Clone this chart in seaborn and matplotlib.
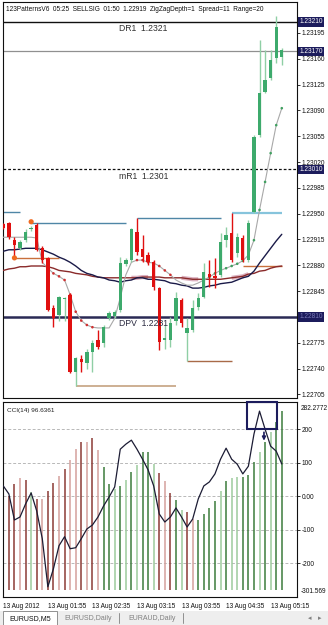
import numpy as np
import matplotlib
matplotlib.use("Agg")
import matplotlib.pyplot as plt
import matplotlib.transforms as mtransforms
from matplotlib.patches import Rectangle
import seaborn as sns

# ---------------- data ----------------
times = ["01:15","01:20","01:25","01:30","01:35","01:40","01:45","01:50","01:55",
         "02:00","02:05","02:10","02:15","02:20","02:25","02:30","02:35","02:40","02:45","02:50","02:55",
         "03:00","03:05","03:10","03:15","03:20","03:25","03:30","03:35","03:40","03:45","03:50","03:55",
         "04:00","04:05","04:10","04:15","04:20","04:25","04:30","04:35","04:40","04:45","04:50","04:55",
         "05:00","05:05","05:10","05:15","05:20","05:25"]

opens  = [1.22936,1.22937,1.22914,1.22903,1.22914,1.22929,1.22935,1.22903,1.22890,1.22822,
          1.22812,1.22834,1.22840,1.22735,1.22753,1.22748,1.22762,1.22778,1.22774,1.22808,
          1.22811,1.22819,1.22882,1.22887,1.22925,1.22902,1.22894,1.22884,1.22849,1.22778,
          1.22778,1.22804,1.22833,1.22788,1.22792,1.22823,1.22837,1.22868,1.22865,1.22867,
          1.22914,1.22924,1.22897,1.22917,1.22887,1.22952,1.23057,1.23115,1.23134,1.23161,1.23163]
highs  = [1.22937,1.22939,1.22918,1.22914,1.22929,1.22933,1.22937,1.22906,1.22891,1.22826,
          1.22838,1.22837,1.22842,1.22755,1.22758,1.22766,1.22778,1.22792,1.22799,1.22818,
          1.22819,1.22891,1.22890,1.22930,1.22944,1.22921,1.22898,1.22887,1.22850,1.22799,
          1.22810,1.22844,1.22836,1.22808,1.22833,1.22842,1.22883,1.22887,1.22890,1.22924,
          1.22932,1.22951,1.22924,1.22921,1.22941,1.23057,1.23186,1.23172,1.23172,1.23218,1.23175]
lows   = [1.22929,1.22916,1.22890,1.22901,1.22911,1.22926,1.22899,1.22883,1.22818,1.22796,
          1.22805,1.22804,1.22734,1.22716,1.22735,1.22740,1.22735,1.22767,1.22769,1.22806,
          1.22808,1.22817,1.22879,1.22884,1.22894,1.22884,1.22880,1.22846,1.22765,1.22767,
          1.22769,1.22799,1.22796,1.22750,1.22789,1.22819,1.22836,1.22850,1.22849,1.22864,
          1.22905,1.22884,1.22891,1.22884,1.22884,1.22951,1.23054,1.23114,1.23131,1.23154,1.23152]
closes = [1.22930,1.22918,1.22907,1.22911,1.22925,1.22930,1.22901,1.22887,1.22819,1.22808,
          1.22837,1.22836,1.22735,1.22754,1.22749,1.22762,1.22774,1.22769,1.22796,1.22815,
          1.22817,1.22883,1.22887,1.22929,1.22898,1.22891,1.22884,1.22850,1.22776,1.22781,
          1.22802,1.22836,1.22802,1.22795,1.22822,1.22836,1.22871,1.22864,1.22863,1.22911,
          1.22921,1.22887,1.22918,1.22887,1.22937,1.23054,1.23114,1.23131,1.23159,1.23203,1.23172]

ma_slow = [1.22899,1.22901,1.22901,1.22902,1.22903,1.22903,1.22903,1.22901,1.22898,1.22895,
           1.22891,1.22888,1.22884,1.22879,1.22873,1.22869,1.22867,1.22864,1.22863,1.22860,
           1.22859,1.22857,1.22859,1.22860,1.22863,1.22863,1.22861,1.22861,1.22860,1.22859,
           1.22856,1.22855,1.22853,1.22852,1.22849,1.22849,1.22850,1.22852,1.22853,1.22855,
           1.22856,1.22857,1.22860,1.22863,1.22865,1.22872,1.22883,1.22893,1.22903,1.22913,1.22922]
ma_red  = [1.22873,1.22875,1.22876,1.22878,1.22878,1.22879,1.22879,1.22879,1.22878,1.22876,
           1.22873,1.22872,1.22871,1.22869,1.22868,1.22867,1.22865,1.22864,1.22863,1.22863,
           1.22863,1.22863,1.22863,1.22863,1.22863,1.22864,1.22864,1.22864,1.22864,1.22863,
           1.22863,1.22863,1.22863,1.22862,1.22861,1.22861,1.22861,1.22861,1.22861,1.22861,
           1.22862,1.22863,1.22864,1.22865,1.22868,1.22869,1.22872,1.22873,1.22876,1.22878,1.22879]
trail   = [1.22918,1.22918,1.22918,1.22918,1.22918,1.22918,1.22917,1.22884,1.22876,1.22869,
           1.22865,1.22860,1.22840,1.22817,1.22805,1.22799,1.22796,1.22795,1.22795,1.22795,
           1.22808,1.22836,1.22867,1.22884,1.22887,1.22887,1.22884,1.22883,1.22879,1.22873,
           1.22867,1.22860,1.22856,1.22853,1.22853,1.22856,1.22860,1.22864,1.22869,1.22873,
           1.22876,1.22879,1.22882,1.22886,1.22894,1.22914,1.22955,1.22993,1.23032,1.23070,1.23093]
trail_dot = ["", "", "", "", "", "", "", "", "dn", "dn", "dn", "dn", "dn", "dn", "dn", "dn", "dn",
             "", "", "", "", "", "", "", "dn", "dn", "dn", "dn", "dn", "dn", "dn", "", "", "", "", "",
             "up", "up", "up", "up", "up", "up", "up", "up", "up", "up", "up", "up", "up", "up", "up"]
pink_ranges = [("03:10", "03:25"), ("03:55", "04:10"), ("04:40", "04:55")]

cci = [31, 7, -71, -62, -23, 10, -44, -127, -271, -217, -148, -121, -157, -154, -127, -98, -86,
       -62, -29, -2, 28, 141, 156, 168, 141, 111, 79, 31, -53, -77, -62, -35, -62, -92, -68, -8,
       31, 43, 67, 111, 144, 111, 96, 67, 90, 186, 255, 201, 150, 135, 96.6361]
hist = [-2, 1, 37, 55, 49, 13, -8, -8, 16, 40, 61, 81, 108, 141, 162, 162, 174, 138, 87, 37, 22,
        31, 49, 73, 93, 132, 132, 96, 70, 46, 10, -11, -41, -47, -68, -71, -53, -35, -14, 16, 46,
        55, 58, 58, 64, 102, 132, 162, 192, 222, 255]
hist_kind = ["bd","bd","bd","bl","bd","gl","bd","bl","bd","bd","bl","bd","bl","bl","bd","bl","bd",
             "bl","gd","gd","gl","gd","gl","gd","gl","gd","gd","gl","bd","bl","bd","gd","gl","bd",
             "bl","gd","gd","gd","gd","gl","gd","gl","gl","gd","gd","gd","gl","gd","gl","gd","gd"]
hist_base = -280

level_names  = ["DR1", "", "mR1", "DPV"]
level_values = [1.2321, 1.2317, 1.2301, 1.2281]

# horizontal pattern segments: start time, end time, price, kind
seg_start = ["01:15", "01:40", "03:15", "04:40", "01:25", "02:20", "04:00", "04:50"]
seg_end   = ["01:30", "03:05", "04:30", "05:25", "02:05", "03:50", "04:40", "05:25"]
seg_price = [1.22952, 1.22937, 1.22944, 1.22951, 1.22890, 1.22716, 1.22750, 1.22879]
seg_kind  = ["blue", "blue", "blue", "lblue", "orange", "tan", "brown", "orange"]
swing_times  = ["01:25", "01:40"]
swing_prices = [1.22890, 1.22939]

price_ticks = [1.23195, 1.23160, 1.23125, 1.23090, 1.23055, 1.23020, 1.22985, 1.22950,
               1.22915, 1.22880, 1.22845, 1.22775, 1.22740, 1.22705]
cci_ticks = [200, 100, 0, -100, -200]
cci_tick_labels = ["200", "100", "0.00", "-100", "-200"]
cci_max, cci_min = 282.2772, -301.569
time_tick_times = ["01:15", "01:55", "02:35", "03:15", "03:55", "04:35", "05:15"]
time_tick_labels = ["13 Aug 2012", "13 Aug 01:55", "13 Aug 02:35", "13 Aug 03:15",
                    "13 Aug 03:55", "13 Aug 04:35", "13 Aug 05:15"]
header = "123PatternsV6  05:25  SELLSIG  01:50  1.22919  ZigZagDepth=1  Spread=11  Range=20"
cci_title = "CCI(14) 96.6361"
box_times = ("04:55", "05:20")
arrow_time = "05:05"
tabs = ["EURUSD,M5", "EURUSD,Daily", "EURAUD,Daily"]

# ---------------- styling ----------------
sns.set_style("white")
plt.rcParams['font.family'] = ['Liberation Sans', 'DejaVu Sans']

W, H = 328, 625
fig = plt.figure(figsize=(W / 100, H / 100), dpi=100)
fig.patch.set_facecolor("white")

def fx(px): return px / W
def fy(py): return 1 - py / H

ax1 = fig.add_axes([fx(3), fy(398), fx(297) - fx(3), fy(2) - fy(398)])
ax2 = fig.add_axes([fx(3), fy(597), fx(297) - fx(3), fy(402) - fy(597)])

idx = np.arange(len(times))
pos = {t: i for i, t in enumerate(times)}
xlim = (-0.054, 52.73)
TS = 4.7

GREEN, RED = "#3daa6c", "#e01010"
GREEN_WICK = "#8fcfa5"

# ---------------- main price panel ----------------
ax1.set_xlim(*xlim)
ax1.set_ylim(1.22700, 1.23237)

lvl_style = {
    "DR1": dict(color="#101010", lw=1.0, ls="-"),
    "": dict(color="#909090", lw=0.9, ls="-"),
    "mR1": dict(color="#101010", lw=0.9, ls=(0, (2.2, 1.6))),
    "DPV": dict(color="#2a2a55", lw=1.8, ls="-"),
}
for name, val in zip(level_names, level_values):
    ax1.axhline(val, zorder=1, **lvl_style[name])
    if name:
        off = mtransforms.offset_copy(ax1.transData, fig=fig, x=0, y=-2.5, units="dots")
        ax1.text(20.8, val, f"{name}  {val:.4f}", transform=off, va="top", ha="left",
                 fontsize=6.2, color="#2a2a40" if name == "DPV" else "#303030", zorder=6)

seg_colors = {"blue": ("#4f86a6", 1.0), "lblue": ("#86c4dc", 1.6), "orange": ("#c8703c", 1.0),
              "tan": ("#c9a98a", 1.3), "brown": ("#a86a48", 1.0)}
for s, e, p, k in zip(seg_start, seg_end, seg_price, seg_kind):
    c, lw = seg_colors[k]
    ax1.hlines(p, pos[s], pos[e], colors=c, lw=lw, zorder=2)

for s, e in pink_ranges:
    sl = slice(pos[s], pos[e] + 1)
    ax1.plot(idx[sl], np.array(ma_red)[sl], color="#dbb0bf", lw=3, zorder=2,
             solid_capstyle="butt")

sns.lineplot(x=idx, y=ma_red, ax=ax1, color="#8a2a2a", lw=1.0, zorder=3, legend=False)
sns.lineplot(x=idx, y=ma_slow, ax=ax1, color="#1a1a48", lw=1.0, zorder=3, legend=False)
sns.lineplot(x=idx, y=trail, ax=ax1, color="#a8a8a8", lw=0.8, zorder=3, legend=False)
dot_col = {"dn": "#d03030", "up": "#40a060"}
dx = [i for i, k in enumerate(trail_dot) if k]
ax1.scatter(dx, [trail[i] for i in dx], s=3.5, c=[dot_col[trail_dot[i]] for i in dx],
            zorder=4, linewidths=0)

o, h, l, c = map(np.array, (opens, highs, lows, closes))
up = c >= o
wick_c = np.where(up, GREEN_WICK, RED)
ax1.vlines(idx, l, h, colors=wick_c, lw=1.0, zorder=4)
body_lo = np.minimum(o, c)
body_h = np.maximum(np.abs(c - o), 0.000012)
ax1.bar(idx, body_h, bottom=body_lo, width=0.6, color=np.where(up, GREEN, RED),
        linewidth=0, zorder=5)

sns.scatterplot(x=[pos[t] for t in swing_times], y=swing_prices, ax=ax1, s=14,
                color="#f06a20", edgecolor="none", zorder=6, legend=False)

ax1.set_xticks([])
ax1.yaxis.tick_right()
ax1.set_yticks(price_ticks)
ax1.set_yticklabels([f"{v:.5f}" for v in price_ticks])
ax1.tick_params(axis="y", length=2, width=0.6, pad=1.5, labelsize=TS, colors="#101010")
ax1.set_xlabel(""); ax1.set_ylabel("")
for sp in ax1.spines.values():
    sp.set_color("#101010"); sp.set_linewidth(0.8)

blend1 = mtransforms.blended_transform_factory(ax1.transAxes, ax1.transData)
for val in level_values:
    ax1.text(1.008, val, f"{val:.5f}", transform=blend1, va="center", ha="left",
             fontsize=TS, color="white" if val != 1.2281 else "#7a7ab8", zorder=10,
             bbox=dict(boxstyle="square,pad=0.2", fc="#1c1c5c", ec="none"), clip_on=False)

ax1.text(0.01, 0.982, header, transform=ax1.transAxes, fontsize=4.7, ha="left",
         va="center", color="#101010")

# ---------------- CCI panel ----------------
ax2.set_xlim(*xlim)
ax2.set_ylim(cci_min, cci_max)
for v in cci_ticks:
    ax2.axhline(v, color="#b8b8b8", lw=0.7, ls=(0, (3, 2)), zorder=1)

hcol = {"bd": "#8c3a36", "bl": "#d4a09c", "gd": "#3c7c3c", "gl": "#9ccc9c"}
ax2.vlines(idx, hist_base, hist, colors=[hcol[k] for k in hist_kind], lw=1.1, zorder=2)
sns.lineplot(x=idx, y=cci, ax=ax2, color="#1c1c34", lw=0.9, zorder=3, legend=False)

bx0, bx1 = pos[box_times[0]] - 0.2, pos[box_times[1]] + 0.15
ax2.add_patch(Rectangle((bx0, 200), bx1 - bx0, cci_max - 200, fill=False,
                        ec="#1c1c5c", lw=1.5, zorder=5, clip_on=False))
ax2.annotate("", xy=(pos[arrow_time] + 0.8, 158), xytext=(pos[arrow_time] + 0.8, 200),
             arrowprops=dict(arrowstyle="-|>", color="#1c1c5c", lw=1.2,
                             mutation_scale=5), zorder=5)

ax2.yaxis.tick_right()
ax2.set_yticks(cci_ticks)
ax2.set_yticklabels(cci_tick_labels)
ax2.tick_params(axis="y", length=2, width=0.6, pad=1.5, labelsize=TS, colors="#101010")
ax2.set_xticks([pos[t] for t in time_tick_times])
ax2.set_xticklabels(time_tick_labels, ha="left")
ax2.tick_params(axis="x", length=3, width=0.6, pad=1.5, labelsize=TS, colors="#101010")
ax2.set_xlabel(""); ax2.set_ylabel("")
for sp in ax2.spines.values():
    sp.set_color("#101010"); sp.set_linewidth(0.8)
blend2 = mtransforms.blended_transform_factory(ax2.transAxes, ax2.transData)
ax2.text(1.012, cci_max - 8, f"{cci_max:.4f}", transform=blend2, va="top", ha="left",
         fontsize=TS, color="#101010", clip_on=False)
ax2.text(1.012, cci_min + 6, f"{cci_min:.3f}", transform=blend2, va="bottom", ha="left",
         fontsize=TS, color="#101010", clip_on=False)
ax2.text(0.012, 0.955, cci_title, transform=ax2.transAxes, fontsize=4.6, ha="left",
         va="center", color="#202020")

# ---------------- tab bar ----------------
fig.patches.append(Rectangle((0, 0), 1, fy(611), transform=fig.transFigure,
                             fc="#eeeeee", ec="none", zorder=0))
fig.patches.append(Rectangle((fx(3), 0), fx(57) - fx(3), fy(611), transform=fig.transFigure,
                             fc="white", ec="#909090", lw=0.7, zorder=1))
tab_x = [9, 64, 128]
for t, xp, col in zip(tabs, tab_x, ["#101010", "#808080", "#808080"]):
    fig.text(fx(xp), fy(618.5), t, fontsize=5.0, ha="left", va="center", color=col)
for xp in [119, 183]:
    fig.lines.append(plt.Line2D([fx(xp), fx(xp)], [fy(623), fy(613)], transform=fig.transFigure,
                                color="#909090", lw=0.7))
fig.text(fx(310), fy(618.5), "\u25c2", fontsize=5, color="#808080", ha="center", va="center",
         family=["DejaVu Sans"])
fig.text(fx(320), fy(618.5), "\u25b8", fontsize=5, color="#808080", ha="center", va="center",
         family=["DejaVu Sans"])

fig.savefig("out.png", dpi=100)
